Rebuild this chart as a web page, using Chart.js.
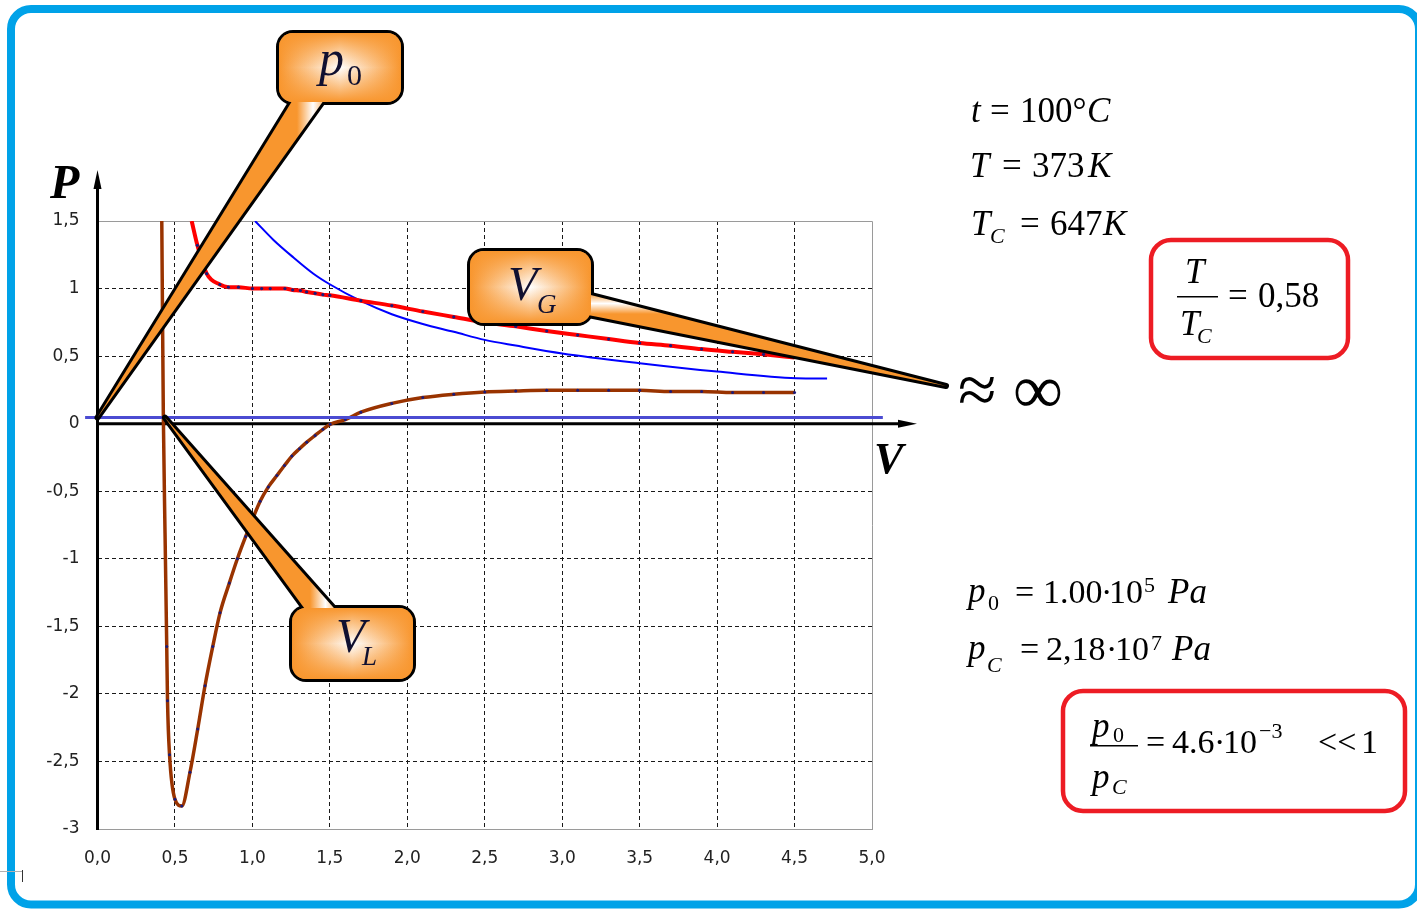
<!DOCTYPE html>
<html>
<head>
<meta charset="utf-8">
<script src="https://cdn.jsdelivr.net/npm/chart.js@4.4.0/dist/chart.umd.min.js"></script>
<style>
  html, body { margin: 0; padding: 0; background: #fff; }
  #wrap { position: relative; width: 1417px; height: 909px; }
</style>
</head>
<body>
<div id="wrap"><canvas id="c" width="1417" height="909"></canvas></div>
<script>
// Van der Waals isotherm (brown), t = 100 °C
const vdwV = [0.415, 0.425, 0.436, 0.447, 0.452, 0.465, 0.50, 0.544, 0.597, 0.647, 0.694, 0.744, 0.791, 0.851, 0.903, 0.957, 1.05, 1.103, 1.158, 1.207, 1.255, 1.304, 1.351, 1.405, 1.455, 1.502, 1.60, 1.70, 1.90, 2.10, 2.30, 2.50, 2.70, 2.90, 3.10, 3.30, 3.50, 3.70, 3.90, 4.10, 4.30, 4.50];
const vdwP = [1.5, 0.06, -0.81, -1.65, -2.05, -2.45, -2.78, -2.83, -2.58, -2.26, -1.94, -1.65, -1.40, -1.18, -1.00, -0.835, -0.575, -0.468, -0.384, -0.31, -0.24, -0.186, -0.137, -0.087, -0.042, -0.005, 0.03, 0.085, 0.15, 0.193, 0.218, 0.235, 0.242, 0.247, 0.247, 0.247, 0.247, 0.238, 0.238, 0.23, 0.23, 0.23];

// Real-gas isotherm (red)
const realV = [0.608, 0.645, 0.705, 0.79, 0.845, 0.91, 1.0, 1.06, 1.115, 1.21, 1.26, 1.31, 1.35, 1.405, 1.455, 1.50, 1.70, 1.90, 2.10, 2.30, 2.50, 2.70, 2.90, 3.10, 3.30, 3.50, 3.70, 3.90, 4.10, 4.30, 4.50];
const realP = [1.5, 1.32, 1.11, 1.03, 1.01, 1.01, 1.0, 1.0, 1.0, 1.0, 0.99, 0.985, 0.975, 0.965, 0.955, 0.95, 0.91, 0.874, 0.83, 0.79, 0.75, 0.72, 0.686, 0.656, 0.626, 0.597, 0.577, 0.552, 0.532, 0.513, 0.49];

// Ideal-gas isotherm (blue)
const idealV = [1.017, 1.136, 1.265, 1.394, 1.502, 1.696, 1.90, 2.10, 2.30, 2.50, 2.70, 3.0, 3.5, 4.0, 4.51, 4.71];
const idealP = [1.50, 1.36, 1.23, 1.11, 1.03, 0.91, 0.81, 0.738, 0.68, 0.62, 0.578, 0.52, 0.448, 0.386, 0.337, 0.335];

// Atmospheric pressure level p0
const p0V = [-0.08, 5.07];
const p0P = [0.045, 0.045];

// Axis ticks
const xTicks = [0, 0.5, 1, 1.5, 2, 2.5, 3, 3.5, 4, 4.5, 5];
const yTicks = [1.5, 1, 0.5, 0, -0.5, -1, -1.5, -2, -2.5, -3];

const pts = (xs, ys) => xs.map((x, i) => ({ x, y: ys[i] }));
const comma = v => String(v).replace('.', ',');

const SERIF = '"Liberation Serif", "Times New Roman", serif';
const TICKFONT = '"DejaVu Sans", Verdana, sans-serif';
const ORANGE = '#f8962e';

function roundRectPath(ctx, x, y, w, h, r) {
  ctx.beginPath();
  ctx.moveTo(x + r, y);
  ctx.lineTo(x + w - r, y);
  ctx.arcTo(x + w, y, x + w, y + r, r);
  ctx.lineTo(x + w, y + h - r);
  ctx.arcTo(x + w, y + h, x + w - r, y + h, r);
  ctx.lineTo(x + r, y + h);
  ctx.arcTo(x, y + h, x, y + h - r, r);
  ctx.lineTo(x, y + r);
  ctx.arcTo(x, y, x + r, y, r);
  ctx.closePath();
}

// Orange speech-bubble callout with a wedge pointer
function callout(ctx, box, base, tip) {
  const [bx, by, bw, bh, r] = box;
  const wedge = () => {
    ctx.beginPath();
    ctx.moveTo(base[0][0], base[0][1]);
    ctx.lineTo(tip[0], tip[1]);
    ctx.lineTo(base[1][0], base[1][1]);
    ctx.closePath();
  };
  ctx.save();
  ctx.lineJoin = 'round';
  ctx.strokeStyle = '#000';
  ctx.lineWidth = 6;
  roundRectPath(ctx, bx, by, bw, bh, r); ctx.stroke();
  wedge(); ctx.stroke();
  // wedge fill
  const g = ctx.createLinearGradient(base[0][0], base[0][1], base[1][0], base[1][1]);
  g.addColorStop(0, ORANGE); g.addColorStop(0.5, '#ffffff'); g.addColorStop(1, ORANGE);
  ctx.fillStyle = g; wedge(); ctx.fill();
  // box fill: horizontal + vertical gradients
  const gh = ctx.createLinearGradient(bx, 0, bx + bw, 0);
  gh.addColorStop(0, ORANGE); gh.addColorStop(0.5, '#ffffff'); gh.addColorStop(1, ORANGE);
  ctx.fillStyle = gh; roundRectPath(ctx, bx, by, bw, bh, r); ctx.fill();
  const gv = ctx.createLinearGradient(0, by, 0, by + bh);
  gv.addColorStop(0, 'rgba(248,150,46,1)'); gv.addColorStop(0.5, 'rgba(248,150,46,0)'); gv.addColorStop(1, 'rgba(248,150,46,1)');
  ctx.fillStyle = gv; roundRectPath(ctx, bx, by, bw, bh, r); ctx.fill();
  ctx.restore();
}

function txt(ctx, items) {
  ctx.save();
  ctx.textBaseline = 'alphabetic';
  ctx.textAlign = 'left';
  for (const [s, x, y, font, color] of items) {
    ctx.font = font;
    ctx.fillStyle = color || '#000';
    ctx.fillText(s, x, y);
  }
  ctx.restore();
}

const decor = {
  id: 'decor',
  beforeDatasetsDraw(chart) {
    const ctx = chart.ctx, ca = chart.chartArea;
    const xs = chart.scales.x, ys = chart.scales.y;
    const x0 = xs.getPixelForValue(0), y0 = ys.getPixelForValue(0);
    ctx.save();
    // grey plot frame (top and right)
    ctx.strokeStyle = '#9a9a9a'; ctx.lineWidth = 1;
    ctx.beginPath();
    ctx.moveTo(ca.left, Math.round(ca.top) + 0.5);
    ctx.lineTo(Math.round(ca.right) + 0.5, Math.round(ca.top) + 0.5);
    ctx.lineTo(Math.round(ca.right) + 0.5, ca.bottom);
    ctx.stroke();
    // black axes with arrows
    ctx.strokeStyle = '#000'; ctx.fillStyle = '#000'; ctx.lineWidth = 3;
    ctx.beginPath();
    ctx.moveTo(x0, ca.bottom + 1); ctx.lineTo(x0, 186);
    ctx.moveTo(ca.left - 1, y0); ctx.lineTo(902, y0);
    ctx.stroke();
    ctx.beginPath();
    ctx.moveTo(x0, 170); ctx.lineTo(x0 - 4, 189); ctx.lineTo(x0 + 4, 189); ctx.closePath(); ctx.fill();
    ctx.beginPath();
    ctx.moveTo(917, y0); ctx.lineTo(898, y0 - 4); ctx.lineTo(898, y0 + 4); ctx.closePath(); ctx.fill();
    ctx.restore();
  },
  afterDraw(chart) {
    const ctx = chart.ctx;
    const xs = chart.scales.x, ys = chart.scales.y;

    // callouts
    const tipP0 = [xs.getPixelForValue(p0V[0] + 0.08), ys.getPixelForValue(p0P[0])];
    const tipVL = [xs.getPixelForValue(0.435), ys.getPixelForValue(p0P[0])];
    callout(ctx, [279, 33, 122, 69, 14], [[297, 93], [329, 93]], tipP0);
    callout(ctx, [470, 251, 121, 72, 14], [[583, 293], [583, 314]], [946, 386]);
    callout(ctx, [292, 608, 121, 71, 14], [[310, 616], [341, 616]], tipVL);

    const INK = '#101030';
    txt(ctx, [
      ['p', 319, 75, `italic 50px ${SERIF}`, INK],
      ['0', 347, 85, `30px ${SERIF}`, INK],
      ['V', 508, 300, `italic 48px ${SERIF}`, INK],
      ['G', 537, 313, `italic 27px ${SERIF}`, INK],
      ['V', 336, 652, `italic 48px ${SERIF}`, INK],
      ['L', 362, 665, `italic 27px ${SERIF}`, INK],
    ]);

    // axis names and the limit sign
    txt(ctx, [
      ['P', 50, 198, `italic bold 48px ${SERIF}`],
      ['V', 874, 473, `italic bold 44px ${SERIF}`],
      ['\u2248', 958, 413, `70px ${SERIF}`],
      ['\u221E', 1013, 413, `70px ${SERIF}`],
    ]);

    // parameters
    const I = `italic 35px ${SERIF}`, R = `35px ${SERIF}`;
    const N = `34px ${SERIF}`;
    const SI = `italic 22px ${SERIF}`, SR = `22px ${SERIF}`;
    txt(ctx, [
      ['t', 971, 122, I], ['=', 990, 122, R], ['100\u00B0', 1020, 122, R], ['C', 1087, 122, I],
      ['T', 970, 177, I], ['=', 1002, 177, R], ['373', 1032, 177, R], ['K', 1088, 177, I],
      ['T', 971, 235, I], ['C', 990, 243, SI], ['=', 1020, 235, R], ['647', 1050, 235, R], ['K', 1103, 235, I],
      ['T', 1185, 283, I], ['T', 1180, 335, I], ['C', 1197, 343, SI],
      ['=', 1228, 307, R], ['0,58', 1258, 307, R],
      ['p', 968, 602, I], ['0', 988, 610, SR], ['=', 1015, 603, N], ['1.00', 1043, 603, N],
      ['\u00B7', 1101, 603, N], ['10', 1109, 603, N], ['5', 1144, 592, SR], ['Pa', 1168, 603, I],
      ['p', 968, 659, I], ['C', 987, 672, SI], ['=', 1020, 660, N], ['2,18', 1046, 660, N],
      ['\u00B7', 1106, 660, N], ['10', 1115, 660, N], ['7', 1151, 650, SR], ['Pa', 1172, 660, I],
      ['p', 1092, 737, I], ['0', 1113, 742, SR], ['p', 1092, 788, I], ['C', 1112, 794, SI],
      ['=', 1146, 753, N], ['4.6', 1172, 753, N], ['\u00B7', 1214, 753, N], ['10', 1223, 753, N],
      ['\u22123', 1259, 738, SR], ['<<', 1318, 753, N], ['1', 1361, 753, N],
    ]);
    ctx.save();
    ctx.fillStyle = '#000';
    ctx.fillRect(1177, 296, 41, 1.5);
    ctx.fillRect(1090, 745, 48, 1.5);
    // red frames round the ratios
    ctx.strokeStyle = '#ed1c24'; ctx.lineWidth = 4.5;
    roundRectPath(ctx, 1151, 240, 197, 118, 20); ctx.stroke();
    roundRectPath(ctx, 1063, 691, 342, 120, 20); ctx.stroke();
    // outer blue frame
    ctx.strokeStyle = '#00a2e8'; ctx.lineWidth = 8;
    roundRectPath(ctx, 11, 9, 1408, 895.5, 20); ctx.stroke();
    // small grey mark at the left edge
    ctx.strokeStyle = '#b0b0b0'; ctx.lineWidth = 1;
    ctx.beginPath(); ctx.moveTo(0, 871.5); ctx.lineTo(22, 871.5); ctx.stroke();
    ctx.strokeStyle = '#333';
    ctx.beginPath(); ctx.moveTo(22.5, 870); ctx.lineTo(22.5, 882); ctx.stroke();
    ctx.restore();
  }
};

const gridColorX = c => (c.tick && (c.tick.value === 0 || c.tick.value === 5)) ? 'rgba(0,0,0,0)' : '#1a1a1a';
const gridColorY = c => (c.tick && (c.tick.value === 1.5 || c.tick.value === 0 || c.tick.value === -3)) ? 'rgba(0,0,0,0)' : '#1a1a1a';

new Chart(document.getElementById('c'), {
  type: 'scatter',
  data: {
    datasets: [
      { label: 'real', data: pts(realV, realP), showLine: true, borderColor: '#ff0000', borderWidth: 4,
        pointRadius: c => c.dataIndex === 0 ? 0 : 1.6, pointBackgroundColor: '#1b1b7a', pointBorderWidth: 0,
        cubicInterpolationMode: 'monotone', order: 1 },
      { label: 'p0', data: pts(p0V, p0P), showLine: true, borderColor: '#4b4bd2', borderWidth: 3,
        pointRadius: 0, clip: false, order: 2 },
      { label: 'vdw', data: pts(vdwV, vdwP), showLine: true, borderColor: '#993300', borderWidth: 3.5,
        pointRadius: c => c.dataIndex < 3 ? 0 : 1.5, pointBackgroundColor: '#1b1b7a', pointBorderWidth: 0,
        cubicInterpolationMode: 'monotone', order: 3 },
      { label: 'ideal', data: pts(idealV, idealP), showLine: true, borderColor: '#0000ff', borderWidth: 2,
        pointRadius: 0, cubicInterpolationMode: 'monotone', order: 4 },
    ]
  },
  options: {
    responsive: false,
    animation: false,
    events: [],
    devicePixelRatio: 1,
    layout: { padding: { left: 0.5, top: 221, right: 545, bottom: 30 } },
    plugins: { legend: { display: false }, tooltip: { enabled: false } },
    scales: {
      x: {
        type: 'linear', min: 0, max: 5,
        afterBuildTicks: s => { s.ticks = xTicks.map(v => ({ value: v })); },
        afterFit: s => { s.height = 50; },
        ticks: { callback: v => v.toFixed(1).replace('.', ','), color: '#222', padding: 19,
                 maxRotation: 0, autoSkip: false,
                 font: { family: TICKFONT, size: 17 } },
        grid: { color: gridColorX, lineWidth: 1, drawTicks: false },
        border: { display: true, color: '#9a9a9a', width: 1, dash: [4, 3] }
      },
      y: {
        type: 'linear', min: -3, max: 1.5,
        afterBuildTicks: s => { s.ticks = yTicks.map(v => ({ value: v })); },
        afterFit: s => { s.width = 97; },
        ticks: { callback: v => comma(v), color: '#222', padding: 18, autoSkip: false,
                 font: { family: TICKFONT, size: 17 } },
        grid: { color: gridColorY, lineWidth: 1, drawTicks: false },
        border: { display: false, dash: [4, 3] }
      }
    }
  },
  plugins: [decor]
});
</script>
</body>
</html>
